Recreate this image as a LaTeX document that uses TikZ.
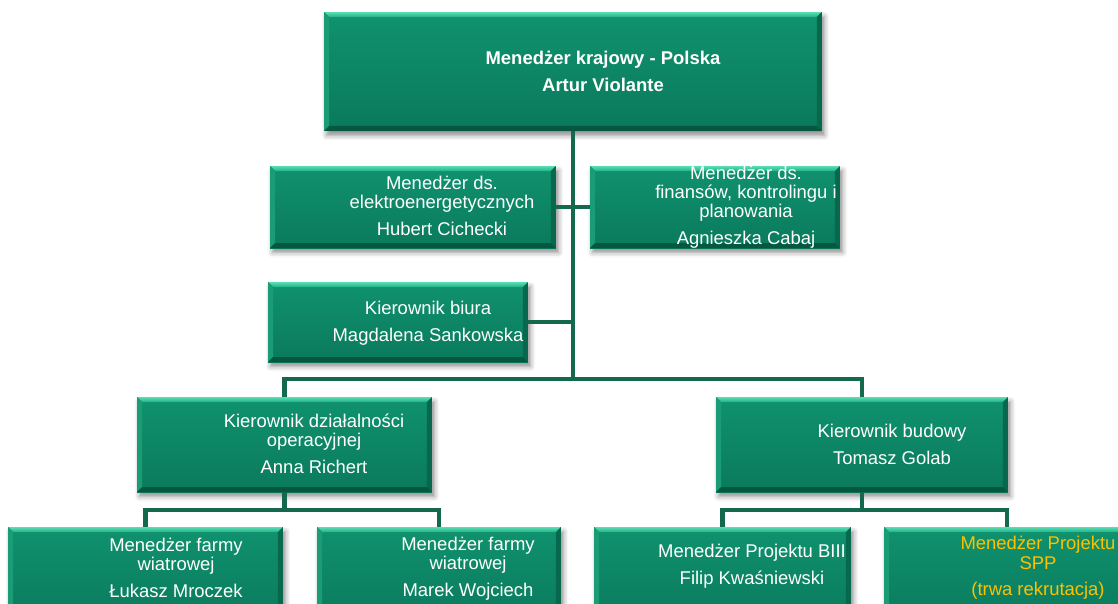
\documentclass[tikz,border=0pt]{standalone}
\usepackage{fontspec}
\setmainfont{Liberation Sans}
\usetikzlibrary{calc,shadows.blur}

\definecolor{boxtop}{RGB}{16,146,110}
\definecolor{boxbottom}{RGB}{10,122,92}
\definecolor{bevtop}{RGB}{88,222,178}
\definecolor{bevmid}{RGB}{36,176,136}
\definecolor{bevleft}{RGB}{26,156,118}
\definecolor{bevright}{RGB}{8,104,78}
\definecolor{bevbottom}{RGB}{6,86,64}
\definecolor{linkgreen}{RGB}{20,104,78}
\definecolor{vacant}{RGB}{255,192,0}

\tikzset{
	bevel/.style={path picture={
		\coordinate (bsw) at (path picture bounding box.south west);
		\coordinate (bne) at (path picture bounding box.north east);
		\coordinate (bnw) at (bsw|-bne);
		\coordinate (bse) at (bne|-bsw);
		\shade[top color=bevtop, bottom color=bevmid] (bnw) -- (bne) -- ($(bne)+(-#1,-#1)$) -- ($(bnw)+(#1,-#1)$) -- cycle;
		\fill[bevleft] (bnw) -- ($(bnw)+(#1,-#1)$) -- ($(bsw)+(#1,#1)$) -- (bsw) -- cycle;
		\fill[bevright] (bne) -- ($(bne)+(-#1,-#1)$) -- ($(bse)+(-#1,#1)$) -- (bse) -- cycle;
		\fill[bevbottom] (bsw) -- ($(bsw)+(#1,#1)$) -- ($(bse)+(-#1,#1)$) -- (bse) -- cycle;
	}},
	bevel/.default=1mm,
	unitbox/.style={rectangle, inner sep=0pt, outer sep=0pt, top color=boxtop, bottom color=boxbottom, bevel,
		blur shadow={shadow xshift=0.5mm, shadow yshift=-0.9mm, shadow blur radius=1mm, shadow opacity=45}},
	txt/.style={text=white, align=center, font=\fontsize{10.5}{11}\selectfont},
	link/.style={draw=linkgreen, line width=2.8pt},
}

\begin{document}
\begin{tikzpicture}[x=0.02cm, y=-0.02cm]
		%%%%% START %%%%%
		
		\useasboundingbox (0, 0) rectangle (1118, 603);
		\clip (0, 0) rectangle (1118, 603);
		
		\node[unitbox, minimum width=9.96cm, minimum height=2.38cm] (ceo) at (573, 71.5) {};
		\node[txt, font=\fontsize{10.5}{11}\selectfont\bfseries] (ceo-t) at (603, 71.5) {Menedżer krajowy - Polska\\[4.3pt]Artur Violante};
		
		\node[unitbox, minimum width=5.72cm, minimum height=1.64cm] (elektro) at (413, 207) {};
		\node[txt] (elektro-t) at (442, 206) {Menedżer ds.\\elektroenergetycznych\\[4.3pt]Hubert Cichecki};
		
		\node[unitbox, minimum width=5cm, minimum height=1.64cm] (finanse) at (715, 207) {};
		\node[txt] (finanse-t) at (746, 207) {Menedżer ds.\\finansów, kontrolingu i\\planowania\\[4.3pt]Agnieszka Cabaj};
		
		\node[unitbox, minimum width=5.2cm, minimum height=1.6cm] (biuro) at (398, 322) {};
		\node[txt] (biuro-t) at (428, 323) {Kierownik biura\\[4.3pt]Magdalena Sankowska};
		
		\node[unitbox, minimum width=5.9cm, minimum height=1.9cm] (operacje) at (284.5, 444.5) {};
		\node[txt] (operacje-t) at (314, 444) {Kierownik działalności\\operacyjnej\\[4.3pt]Anna Richert};
		
		\node[unitbox, minimum width=5.84cm, minimum height=1.9cm] (budowa) at (862, 444.5) {};
		\node[txt] (budowa-t) at (892, 444.5) {Kierownik budowy\\[4.3pt]Tomasz Golab};
		
		\node[unitbox, minimum width=5.5cm, minimum height=1.9cm] (farma1) at (145.5, 574.5) {};
		\node[txt] (farma1-t) at (176, 567.5) {Menedżer farmy\\wiatrowej\\[4.3pt]Łukasz Mroczek};
		
		\node[unitbox, minimum width=4.88cm, minimum height=1.9cm] (farma2) at (439, 574.5) {};
		\node[txt] (farma2-t) at (468, 568.5) {Menedżer farmy\\wiatrowej\\[4.3pt]Marek Wojciech};
		
		\node[unitbox, minimum width=5.14cm, minimum height=1.9cm] (biii) at (722.5, 574.5) {};
		\node[txt] (biii-t) at (752, 566.5) {Menedżer Projektu BIII\\[4.3pt]Filip Kwaśniewski};
		
		\node[unitbox, minimum width=4.92cm, minimum height=1.9cm] (spp) at (1007, 574.5) {};
		\node[txt, text=vacant] (spp-t) at (1038, 568) {Menedżer Projektu\\SPP\\[4.3pt](trwa rekrutacja)};
		
		\coordinate (hub) at (573, 379);
		\coordinate (opsbus) at ($(operacje.south)+(0, 18)$);
		\coordinate (buildbus) at ($(budowa.south)+(0, 18)$);
		
		\draw[link] (ceo.south) -- (hub);
		\draw[link] (elektro.east) -- (finanse.west);
		\draw[link] (biuro.east) -- (biuro.east -| hub);
		\draw[link] (operacje.north) |- (hub) -| (budowa.north);
		
		\draw[link] (operacje.south) -- (opsbus);
		\draw[link] (farma1.north) |- (opsbus) -| (farma2.north);
		\draw[link] (budowa.south) -- (buildbus);
		\draw[link] (biii.north) |- (buildbus) -| (spp.north);
		
		%%%%% END %%%%%
\end{tikzpicture}
\end{document}
